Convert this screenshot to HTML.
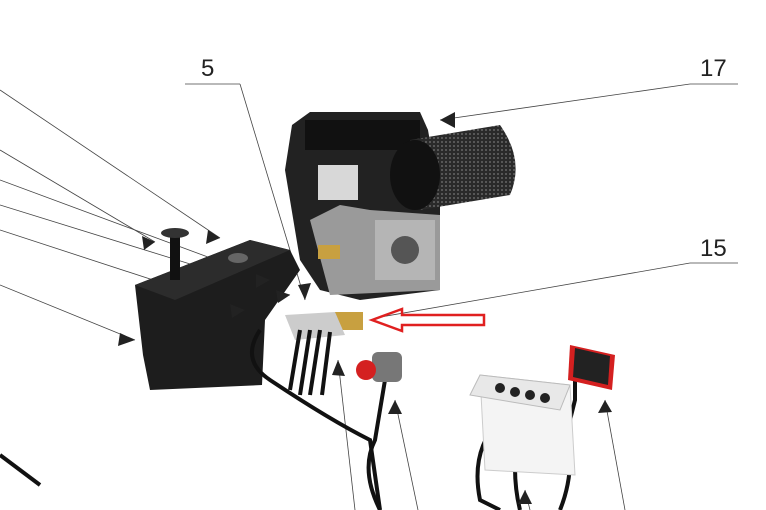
<!DOCTYPE html>
<html><head><style>
html,body{margin:0;padding:0;background:#fff;width:766px;height:510px;overflow:hidden}
text{font-family:"Liberation Sans",sans-serif;font-size:24px;fill:#222}
</style></head><body>
<svg width="766" height="510" viewBox="0 0 766 510" xmlns="http://www.w3.org/2000/svg">
<defs>
<pattern id="mesh" width="4" height="4" patternUnits="userSpaceOnUse">
<rect width="4" height="4" fill="#2a2a2a"/><circle cx="2" cy="2" r="0.9" fill="#777"/>
</pattern>
</defs>
<g stroke="#444" stroke-width="0.8" fill="none">
<line x1="185" y1="84" x2="240" y2="84"/>
<line x1="240" y1="84" x2="305" y2="300"/>
<line x1="690" y1="84" x2="738" y2="84"/>
<line x1="690" y1="84" x2="440" y2="120"/>
<line x1="690" y1="263" x2="738" y2="263"/>
<line x1="690" y1="263" x2="375" y2="318"/>
<line x1="0" y1="90" x2="220" y2="238"/>
<line x1="0" y1="150" x2="155" y2="242"/>
<line x1="0" y1="180" x2="270" y2="280"/>
<line x1="0" y1="205" x2="290" y2="295"/>
<line x1="0" y1="230" x2="245" y2="310"/>
<line x1="0" y1="285" x2="135" y2="340"/>
<line x1="338" y1="360" x2="355" y2="510"/>
<line x1="395" y1="400" x2="418" y2="510"/>
<line x1="605" y1="400" x2="625" y2="510"/>
<line x1="525" y1="490" x2="530" y2="510"/>
</g>
<text x="201" y="76">5</text>
<text x="700" y="76">17</text>
<text x="700" y="256">15</text>
<path d="M135 285 L250 240 L290 250 L300 270 L265 320 L262 385 L150 390 L143 355 Z" fill="#1d1d1d"/>
<path d="M135 285 L250 240 L290 250 L175 300 Z" fill="#2c2c2c"/>
<rect x="170" y="235" width="10" height="45" fill="#111"/>
<ellipse cx="175" cy="233" rx="14" ry="5" fill="#333"/>
<ellipse cx="238" cy="258" rx="10" ry="5" fill="#666"/>
<path d="M292 125 L310 112 L420 112 L428 130 L440 200 L440 290 L360 300 L320 290 L300 260 L285 170 Z" fill="#222"/>
<rect x="305" y="120" width="115" height="30" fill="#111"/>
<path d="M310 220 L340 205 L370 210 L440 215 L440 290 L330 295 Z" fill="#9a9a9a"/>
<rect x="375" y="220" width="60" height="60" fill="#b5b5b5"/>
<circle cx="405" cy="250" r="14" fill="#555"/>
<rect x="318" y="165" width="40" height="35" fill="#d8d8d8"/>
<rect x="318" y="245" width="22" height="14" fill="#c8a040"/>
<path d="M410 140 L500 125 Q525 160 510 195 L420 210 Z" fill="url(#mesh)"/>
<ellipse cx="415" cy="175" rx="25" ry="35" fill="#111"/>
<rect x="335" y="312" width="28" height="18" fill="#c8a040"/>
<path d="M285 315 L335 312 L345 335 L295 340 Z" fill="#ccc"/>
<g stroke="#111" stroke-width="4" fill="none">
<path d="M300 330 L290 390"/><path d="M310 330 L300 395"/><path d="M320 330 L310 395"/><path d="M330 332 L322 395"/>
<path d="M260 330 Q240 360 270 380 Q330 420 370 440 L380 510"/>
<path d="M385 380 L375 440 Q360 470 380 510"/>
<path d="M500 420 Q470 450 480 500 L500 510"/><path d="M520 420 Q510 470 520 510"/><path d="M560 410 Q580 460 560 510"/>
<path d="M575 380 L575 400 L570 420"/>
<path d="M0 455 L40 485"/>
</g>
<rect x="372" y="352" width="30" height="30" rx="6" fill="#777"/>
<circle cx="366" cy="370" r="10" fill="#d42020"/>
<path d="M372 320 L402 309 L402 315 L484 315 L484 325 L402 325 L402 331 Z" fill="none" stroke="#e02020" stroke-width="2.5"/>
<path d="M480 375 L570 385 L575 475 L485 470 Z" fill="#f4f4f4" stroke="#ccc"/>
<path d="M470 395 L480 375 L570 385 L560 410 Z" fill="#e8e8e8" stroke="#bbb"/>
<g fill="#222"><circle cx="500" cy="388" r="5"/><circle cx="515" cy="392" r="5"/><circle cx="530" cy="395" r="5"/><circle cx="545" cy="398" r="5"/></g>
<path d="M570 345 L615 355 L612 390 L568 380 Z" fill="#d42020"/>
<path d="M575 348 L610 356 L608 385 L573 377 Z" fill="#222"/>
<g fill="#222">
<path d="M440 120 L455 112 L455 128 Z"/>
<path d="M220 238 L208 230 L206 244 Z"/>
<path d="M155 242 L142 236 L144 250 Z"/>
<path d="M270 280 L256 274 L256 288 Z"/>
<path d="M290 295 L276 290 L278 303 Z"/>
<path d="M245 310 L230 304 L232 318 Z"/>
<path d="M135 340 L120 333 L118 346 Z"/>
<path d="M305 300 L298 285 L311 283 Z"/>
<path d="M338 360 L332 375 L345 376 Z"/>
<path d="M395 400 L388 414 L402 414 Z"/>
<path d="M605 400 L598 413 L612 412 Z"/>
<path d="M525 490 L518 504 L532 504 Z"/>
</g>
</svg>
</body></html>
